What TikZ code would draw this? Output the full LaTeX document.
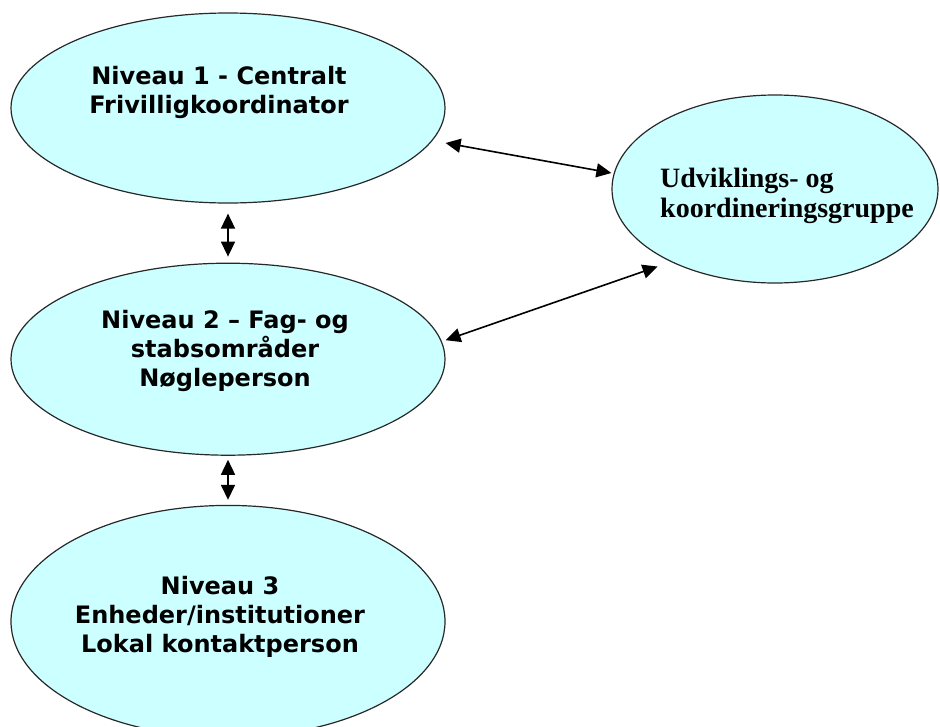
\documentclass[tikz,border=0pt]{standalone}
\usepackage{fontspec}
\newfontfamily\lvlfont{DejaVu Sans}
\newfontfamily\grpfont{Liberation Serif}
\usetikzlibrary{arrows.meta, positioning, shapes.geometric}
\definecolor{lvlfill}{RGB}{204,255,255}
\definecolor{lvlline}{RGB}{40,40,40}

\begin{document}
\begin{tikzpicture}[
    x=1pt, y=-1pt,
    node distance=59pt,
    oval/.style={ellipse, draw=lvlline, line width=1.2pt, fill=lvlfill, inner sep=0pt},
    lvltxt/.style={align=center, font=\lvlfont\bfseries\fontsize{24}{29}\selectfont},
    grptxt/.style={align=left, font=\grpfont\bfseries\fontsize{28}{30}\selectfont},
    arr/.style={{Triangle[length=15pt,width=14pt]}-{Triangle[length=15pt,width=14pt]}, line width=1.6pt}
]
\useasboundingbox (0,0) rectangle (940,726);

% Level column
\node[oval, minimum width=434pt, minimum height=190pt] (lvl1) at (228,108) {};
\node[oval, minimum width=434pt, minimum height=192pt, below=of lvl1] (lvl2) {};
\node[oval, minimum width=434pt, minimum height=232pt, below=49pt of lvl2] (lvl3) {};

% Group
\node[oval, minimum width=326pt, minimum height=188pt] (udv) at (775,189) {};

% Texts
\node[lvltxt] (lvl1txt) at (219,92)  {Niveau 1 - Centralt\\Frivilligkoordinator};
\node[lvltxt] (lvl2txt) at (225,351) {Niveau 2 – Fag- og\\stabsområder\\Nøgleperson};
\node[lvltxt] (lvl3txt) at (220,617) {Niveau 3\\Enheder/institutioner\\Lokal kontaktperson};
\node[grptxt] (udvtxt)  at (787,196) {Udviklings- og\\koordineringsgruppe};

% Column arrows
\draw[arr, shorten <=10pt, shorten >=6pt] (lvl1) -- (lvl2);
\draw[arr, shorten <=4pt, shorten >=5pt] (lvl2) -- (lvl3);

% Arrows to group
\draw[arr] ([yshift=-35pt]lvl1.east) -- ([yshift=16pt]udv.west);
\draw[arr, shorten >=14pt] ([yshift=19pt]lvl2.east) -- (udv.215);
\end{tikzpicture}
\end{document}
